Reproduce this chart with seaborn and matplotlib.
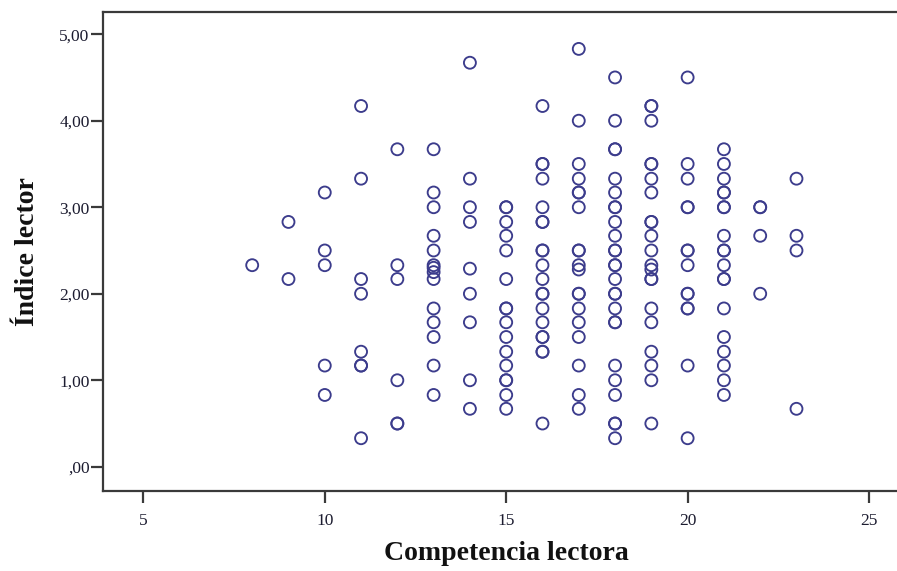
import matplotlib
matplotlib.use("Agg")
import matplotlib.pyplot as plt
import seaborn as sns
import pandas as pd

# Índice lector values per Competencia lectora score
idx_08 = [2.33]
idx_09 = [2.83, 2.17]
idx_10 = [3.17, 2.50, 2.33, 1.17, 0.83]
idx_11 = [4.17, 3.33, 2.17, 2.00, 1.33, 1.17, 1.17, 0.33]
idx_12 = [3.67, 2.33, 2.17, 1.00, 0.50, 0.50]
idx_13 = [3.67, 3.17, 3.00, 2.67, 2.50, 2.33, 2.30, 2.25, 2.17, 1.83, 1.67, 1.50, 1.17, 0.83]
idx_14 = [4.67, 3.33, 3.00, 2.83, 2.29, 2.00, 1.67, 1.00, 0.67]
idx_15 = [3.00, 3.00, 2.83, 2.67, 2.50, 2.17, 1.83, 1.83, 1.67, 1.50, 1.33, 1.17, 1.00, 1.00, 0.83, 0.67]
idx_16 = [4.17, 3.50, 3.50, 3.33, 3.00, 2.83, 2.83, 2.50, 2.50, 2.33, 2.17, 2.00, 2.00, 1.83,
          1.67, 1.50, 1.50, 1.33, 1.33, 0.50]
idx_17 = [4.83, 4.00, 3.50, 3.33, 3.17, 3.17, 3.00, 2.50, 2.50, 2.33, 2.28, 2.00, 2.00, 1.83,
          1.67, 1.50, 1.17, 0.83, 0.67]
idx_18 = [4.50, 4.00, 3.67, 3.67, 3.33, 3.17, 3.00, 3.00, 2.83, 2.67, 2.50, 2.50, 2.33, 2.33,
          2.17, 2.00, 2.00, 1.83, 1.67, 1.67, 1.17, 1.00, 0.83, 0.50, 0.50, 0.33]
idx_19 = [4.17, 4.17, 4.00, 3.50, 3.50, 3.33, 3.17, 2.83, 2.83, 2.67, 2.50, 2.33, 2.28, 2.17,
          2.17, 1.83, 1.67, 1.33, 1.17, 1.00, 0.50]
idx_20 = [4.50, 3.50, 3.33, 3.00, 3.00, 2.50, 2.50, 2.33, 2.00, 2.00, 1.83, 1.83, 1.17, 0.33]
idx_21 = [3.67, 3.50, 3.33, 3.17, 3.17, 3.00, 3.00, 2.67, 2.50, 2.50, 2.33, 2.17, 2.17, 1.83,
          1.50, 1.33, 1.17, 1.00, 0.83]
idx_22 = [3.00, 3.00, 2.67, 2.00]
idx_23 = [3.33, 2.67, 2.50, 0.67]

competencia_scores = list(range(8, 24))
columns = [idx_08, idx_09, idx_10, idx_11, idx_12, idx_13, idx_14, idx_15,
           idx_16, idx_17, idx_18, idx_19, idx_20, idx_21, idx_22, idx_23]

x_ticks = [5, 10, 15, 20, 25]
y_ticks = [0, 1, 2, 3, 4, 5]
y_tick_labels = [",00", "1,00", "2,00", "3,00", "4,00", "5,00"]

rows = []
for score, vals in zip(competencia_scores, columns):
    for v in vals:
        rows.append({"Competencia lectora": score, "Índice lector": v})
df = pd.DataFrame(rows)

sns.set_style("white")
plt.rcParams["font.family"] = ["Liberation Serif", "DejaVu Serif"]

W, H = 897, 571
L, R, T, B = 102.7, 897, 11.7, 491
fig = plt.figure(figsize=(W / 100, H / 100), dpi=100)
ax = fig.add_axes([L / W, (H - B) / H, (R - L) / W, (B - T) / H])

marker_color = "#3c3c8c"
sns.scatterplot(data=df, x="Competencia lectora", y="Índice lector", ax=ax,
                marker="o", s=74, facecolor="none", edgecolor=marker_color,
                linewidth=1.35, zorder=3)

ax.set_xlim(3.88, 25.77)
ax.set_ylim(-0.28, 5.26)
ax.set_xticks(x_ticks)
ax.set_xticklabels([str(t) for t in x_ticks])
ax.set_yticks(y_ticks)
ax.set_yticklabels(y_tick_labels)

spine_color = "#3a3a3a"
for side in ["left", "bottom", "top"]:
    ax.spines[side].set_visible(True)
    ax.spines[side].set_color(spine_color)
    ax.spines[side].set_linewidth(1.6)
ax.spines["right"].set_visible(False)

ax.tick_params(axis="both", which="major", direction="out", length=8.5, width=1.6,
               color=spine_color, labelsize=12.5, labelcolor="#1c1c30",
               left=True, bottom=True)
ax.tick_params(axis="y", pad=1.0)
ax.tick_params(axis="x", pad=7.0)

ax.set_xlabel("Competencia lectora", fontsize=20, fontweight="bold", color="#111111")
ax.set_ylabel("Índice lector", fontsize=20, fontweight="bold", color="#111111")
ax.xaxis.set_label_coords((506 - L) / (R - L), -(541 - B) / (B - T))
ax.yaxis.set_label_coords(-(L - 40) / (R - L), 0.5)

fig.savefig("out.png", dpi=100)
